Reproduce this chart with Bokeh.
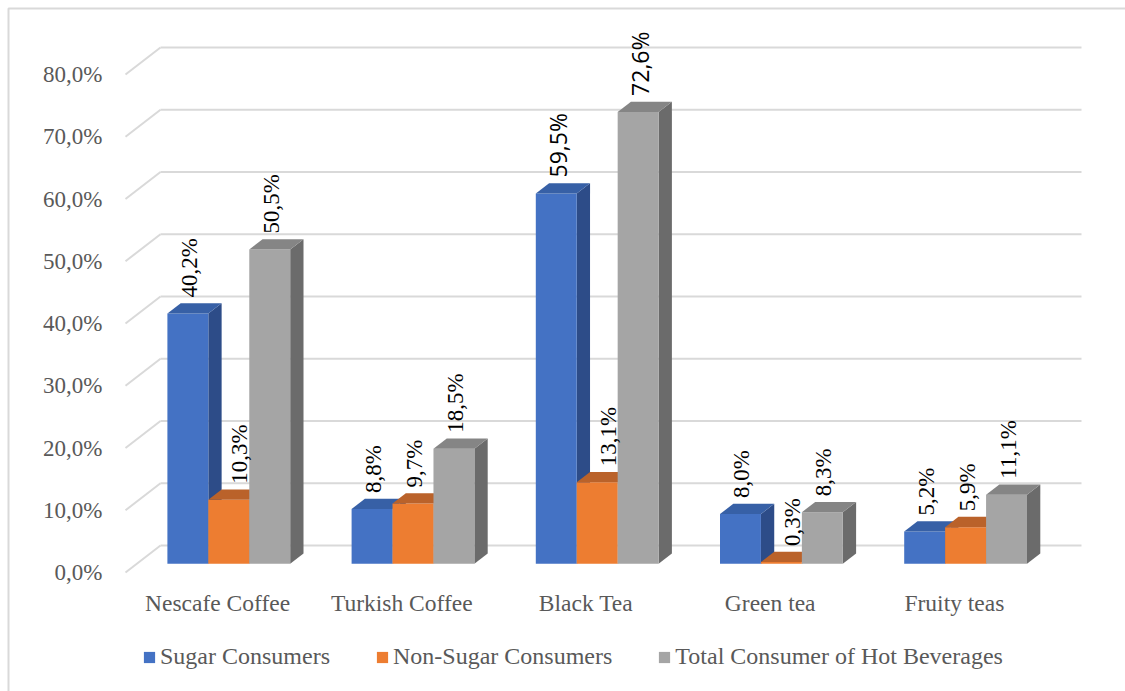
import numpy as np
from bokeh.plotting import figure
from bokeh.models import Range1d, Legend, LegendItem, ColumnDataSource
from bokeh.core.properties import value
from bokeh.embed import file_html
from bokeh.resources import INLINE

# ---- data -----------------------------------------------------------------
categories = ["Nescafe Coffee", "Turkish Coffee", "Black Tea", "Green tea", "Fruity teas"]
sugar_consumers = [40.2, 8.8, 59.5, 8.0, 5.2]
non_sugar_consumers = [10.3, 9.7, 13.1, 0.3, 5.9]
total_consumers = [50.5, 18.5, 72.6, 8.3, 11.1]
series_names = ["Sugar Consumers", "Non-Sugar Consumers", "Total Consumer of Hot Beverages"]
y_ticks = [0, 10, 20, 30, 40, 50, 60, 70, 80]

series_values = [sugar_consumers, non_sugar_consumers, total_consumers]

# ---- styling --------------------------------------------------------------
FRONT = ["#4472C4", "#ED7D31", "#A5A5A5"]
TOP = ["#3760A6", "#BA622A", "#858585"]
SIDE = ["#2D4C88", "#B0581F", "#6B6B6B"]
GRID = "#D9D9D9"
AXIS_TEXT = "#595959"
SERIF_NAME = "Liberation Serif"
SERIF = value(SERIF_NAME)
FS = "23px"
SANS_LABELS = {(2, 0), (2, 2)}  # labels on the Black Tea sugar / total bars

W, H = 1125, 691
PX_CAT = 184.2      # pixels per category on the front plane
PX_PCT = 6.225      # pixels per percentage point
LEFT_PX = 125       # left edge of front plane
FLOOR_PX = 572      # front floor line (from top)

# 3-D box: depth offsets of the back plane, in data units
DX = 35 / PX_CAT
DY = 27 / PX_PCT
F0, F1 = 0.32, 0.70  # bars occupy this slice of the depth
GAP = 1 / 6
BW = 2 / 9


def px_x(px):
    return (px - LEFT_PX) / PX_CAT


def px_y(px_from_top):
    return (FLOOR_PX - px_from_top) / PX_PCT


p = figure(width=W, height=H, x_range=Range1d(px_x(0), px_x(W)),
           y_range=Range1d(px_y(H), px_y(0)), min_border=0,
           toolbar_location=None, output_backend="svg",
           x_axis_type=None, y_axis_type=None)
p.grid.visible = False
p.outline_line_color = None
p.background_fill_color = "white"
p.border_fill_color = "white"

# outer chart border (left and top edges)
p.line([px_x(8), px_x(8), px_x(W + 10)], [px_y(H + 10), px_y(8), px_y(8)],
       line_color=GRID, line_width=2)

# back-wall gridlines and left side-wall diagonals
n_cat = len(categories)
ticks = np.array(y_ticks, dtype=float)
p.segment(x0=np.full_like(ticks, DX), y0=ticks + DY,
          x1=np.full_like(ticks, n_cat + DX), y1=ticks + DY,
          line_color=GRID, line_width=2)
p.segment(x0=np.zeros_like(ticks), y0=ticks, x1=np.full_like(ticks, DX), y1=ticks + DY,
          line_color=GRID, line_width=2)

# y tick labels
p.text(x=np.full_like(ticks, px_x(102)), y=ticks,
       text=[f"{t:.1f}".replace(".", ",") + "%" for t in y_ticks],
       text_align="right", text_baseline="middle", text_font=SERIF,
       text_font_size=FS, text_color=AXIS_TEXT)

# category labels
p.text(x=np.arange(n_cat) + 0.5, y=np.full(n_cat, px_y(602)), text=categories,
       text_align="center", text_baseline="middle", text_font=SERIF,
       text_font_size="23.5px", text_color=AXIS_TEXT)

# bars: side, front and top faces
fronts = []
ox0, oy0 = F0 * DX, F0 * DY
ddx, ddy = (F1 - F0) * DX, (F1 - F0) * DY
for j, vals in enumerate(series_values):
    v = np.array(vals, dtype=float)
    left = np.arange(n_cat) + GAP + j * BW + ox0
    right = left + BW
    bottom = np.full(n_cat, oy0)
    top = v + oy0
    side_xs = [[r, r + ddx, r + ddx, r] for r in right]
    side_ys = [[b, b + ddy, t + ddy, t] for b, t in zip(bottom, top)]
    p.patches(side_xs, side_ys, fill_color=SIDE[j], line_color=None)
    r_front = p.quad(left=left, right=right, bottom=bottom, top=top,
                     fill_color=FRONT[j], line_color=None)
    fronts.append(r_front)
    top_xs = [[l, r, r + ddx, l + ddx] for l, r in zip(left, right)]
    top_ys = [[t, t, t + ddy, t + ddy] for t in top]
    p.patches(top_xs, top_ys, fill_color=TOP[j], line_color=None)

# value labels, rotated, above each bar
lab_x, lab_y, lab_t, lab_font = [], [], [], []
for j, vals in enumerate(series_values):
    for i, v in enumerate(vals):
        cx = i + GAP + (j + 0.5) * BW + ox0
        # a short middle bar sunk between two taller ones gets its label
        # pushed towards the back-right corner of its top face
        sunk = j == 1 and v < sugar_consumers[i] and v < total_consumers[i]
        cx += (11 if sunk else 1.5) / PX_CAT
        lab_x.append(cx)
        lab_y.append(v + oy0 + 16 / PX_PCT)
        lab_t.append(f"{v:.1f}".replace(".", ",") + "%")
        lab_font.append("Open Sans" if (i, j) in SANS_LABELS else SERIF_NAME)

src = ColumnDataSource(dict(x=lab_x, y=lab_y, t=lab_t, f=lab_font))
p.text(x="x", y="y", text="t", text_font="f", source=src, angle=np.pi / 2,
       text_align="left", text_baseline="middle", text_font_size=FS,
       text_color="black")

legend = Legend(items=[LegendItem(label=n, renderers=[r]) for n, r in zip(series_names, fronts)],
                orientation="horizontal", location=(142, 21),
                glyph_width=14, glyph_height=14, label_standoff=4, spacing=45,
                padding=0, margin=0, border_line_color=None,
                background_fill_alpha=0, label_text_font=SERIF_NAME,
                label_text_font_size="24px", label_text_color=AXIS_TEXT)
p.add_layout(legend)

open("out.html", "w").write(file_html(p, INLINE))
